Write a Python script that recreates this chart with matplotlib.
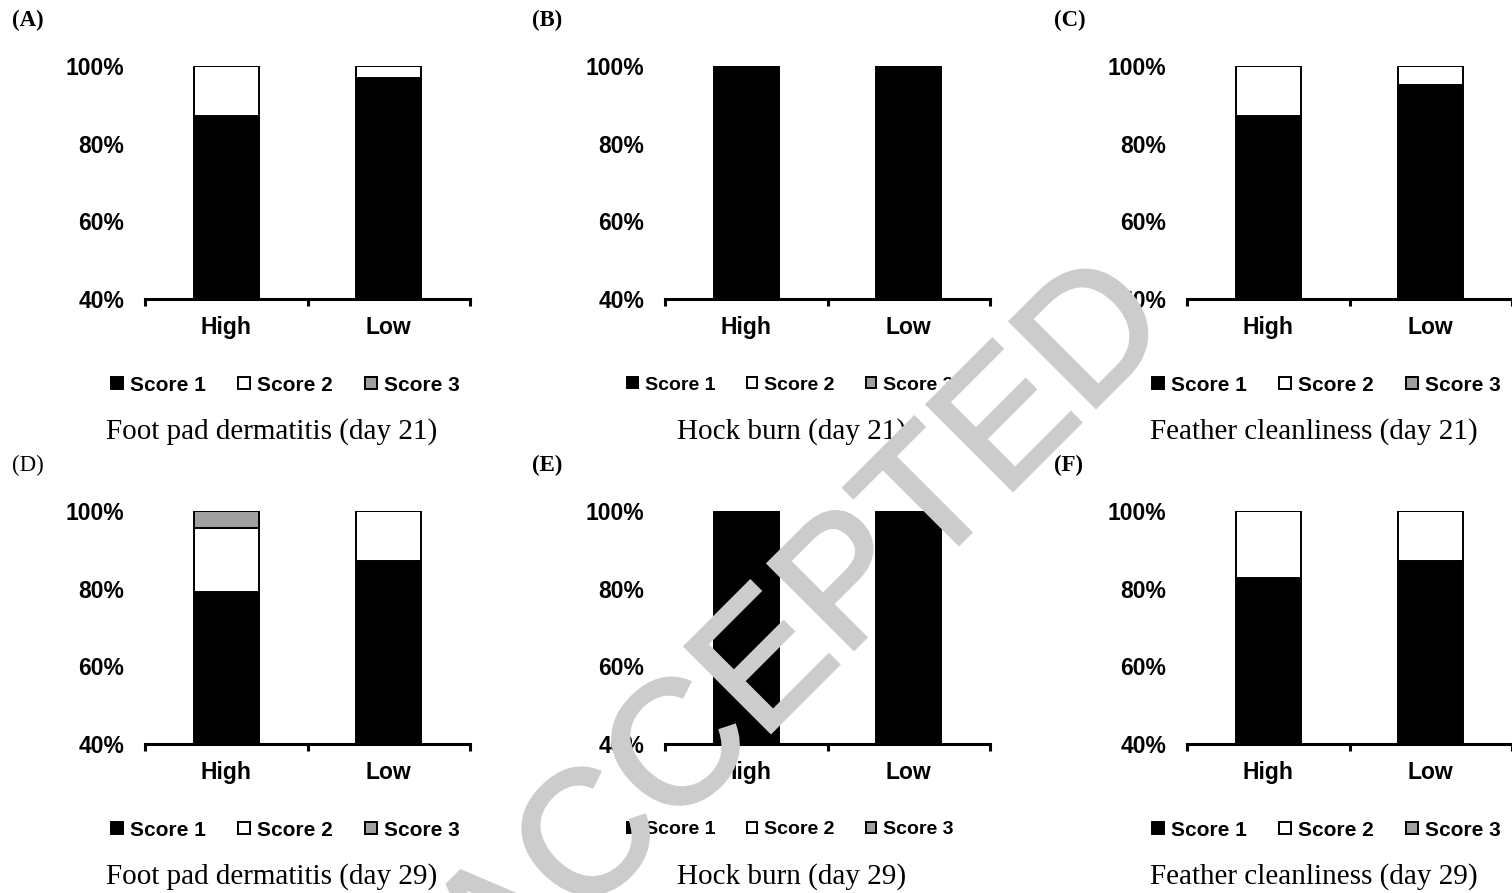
import matplotlib
matplotlib.use("agg")
import matplotlib.pyplot as plt
from matplotlib.textpath import TextPath
from matplotlib.patches import PathPatch
from matplotlib.font_manager import FontProperties
from matplotlib.transforms import Affine2D

categories = ["High", "Low"]
score_names = ["Score 1", "Score 2", "Score 3"]
score_colors = ["black", "white", "#a0a0a0"]

panel_letters = ["(A)", "(B)", "(C)", "(D)", "(E)", "(F)"]
captions = [
    "Foot pad dermatitis (day 21)", "Hock burn (day 21)", "Feather cleanliness (day 21)",
    "Foot pad dermatitis (day 29)", "Hock burn (day 29)", "Feather cleanliness (day 29)",
]

# percent of birds per score, [High, Low]
score1 = [[87.0, 97.0], [100, 100], [87.0, 95.0], [79.2, 87.0], [100, 100], [82.7, 87.0]]
score2 = [[13.0, 3.0], [0, 0], [13.0, 5.0], [16.5, 13.0], [0, 0], [17.3, 13.0]]
score3 = [[0, 0], [0, 0], [0, 0], [4.3, 0], [0, 0], [0, 0]]

W, H = 1512, 893
fig = plt.figure(figsize=(W / 100, H / 100), dpi=100)

sans = "Liberation Sans"
serif = "Liberation Serif"

ax_lefts = [145, 665, 1187]
ax_tops = [66, 511]
ax_w, ax_h = 325, 233
legend_shift = [-22, -37, -23]
legend_size = [15, 14, 15]
legend_gap = [1.55, 1.6, 1.55]

for i in range(6):
    row, col = divmod(i, 3)
    left = ax_lefts[col]
    top = ax_tops[row]
    ax = fig.add_axes([left / W, 1 - (top + ax_h) / H, ax_w / W, ax_h / H])

    x = range(len(categories))
    bottoms = [0, 0]
    handles = []
    for vals, name, color in zip([score1[i], score2[i], score3[i]], score_names, score_colors):
        b = ax.bar(x, vals, width=0.4, bottom=bottoms, color=color,
                   edgecolor="black", linewidth=1.4, label=name, zorder=2)
        handles.append(b)
        bottoms = [bb + v for bb, v in zip(bottoms, vals)]

    ax.set_xlim(-0.5, 1.5)
    ax.set_ylim(40, 100)
    ax.set_yticks([40, 60, 80, 100])
    ax.set_yticklabels(["40%", "60%", "80%", "100%"])
    ax.set_xticks([0, 1])
    ax.set_xticklabels(categories)
    ax.set_xticks([-0.5, 0.5, 1.5], minor=True)
    ax.tick_params(axis="y", length=0, pad=15)
    ax.tick_params(axis="x", which="major", length=0, pad=12.5)
    ax.tick_params(axis="x", which="minor", length=5, width=2.2, direction="out")
    for lab in ax.get_xticklabels() + ax.get_yticklabels():
        lab.set_fontfamily(sans)
        lab.set_fontweight("bold")
        lab.set_fontsize(16.5)
    for s in ["top", "right", "left"]:
        ax.spines[s].set_visible(False)
    ax.spines["bottom"].set_linewidth(2.2)
    ax.spines["bottom"].set_zorder(3)
    ax.patch.set_visible(False)

    cx = left + ax_w / 2
    fig.legend(handles=handles, labels=score_names, ncol=3, frameon=False,
               loc="center", bbox_to_anchor=((cx + legend_shift[col]) / W, 1 - (top + 319) / H),
               prop={"family": sans, "weight": "bold", "size": legend_size[col]},
               handlelength=0.55, handleheight=0.55, handletextpad=0.35,
               columnspacing=legend_gap[col], borderpad=0, borderaxespad=0)

    fig.text((cx - 36) / W, 1 - (top + 366) / H, captions[i], ha="center", va="center",
             fontfamily=serif, fontsize=21)

    weight = "normal" if i == 3 else "bold"
    fig.text((left - 133) / W, 1 - (top - 46) / H, panel_letters[i], ha="left", va="center",
             fontfamily=serif, fontsize=16.5, fontweight=weight)

# "ACCEPTED" watermark drawn over everything, baseline starting below the figure
tp = TextPath((0, 0), "ACCEPTED", size=1, prop=FontProperties(family=sans))
tr = Affine2D().scale(176).rotate_deg(45).translate(498, H - 1005)
wm = PathPatch(tp, transform=tr, facecolor="#cccccc", edgecolor="#cccccc", lw=2.5, zorder=20)
fig.add_artist(wm)

fig.savefig("out.png", dpi=100, facecolor="white")
